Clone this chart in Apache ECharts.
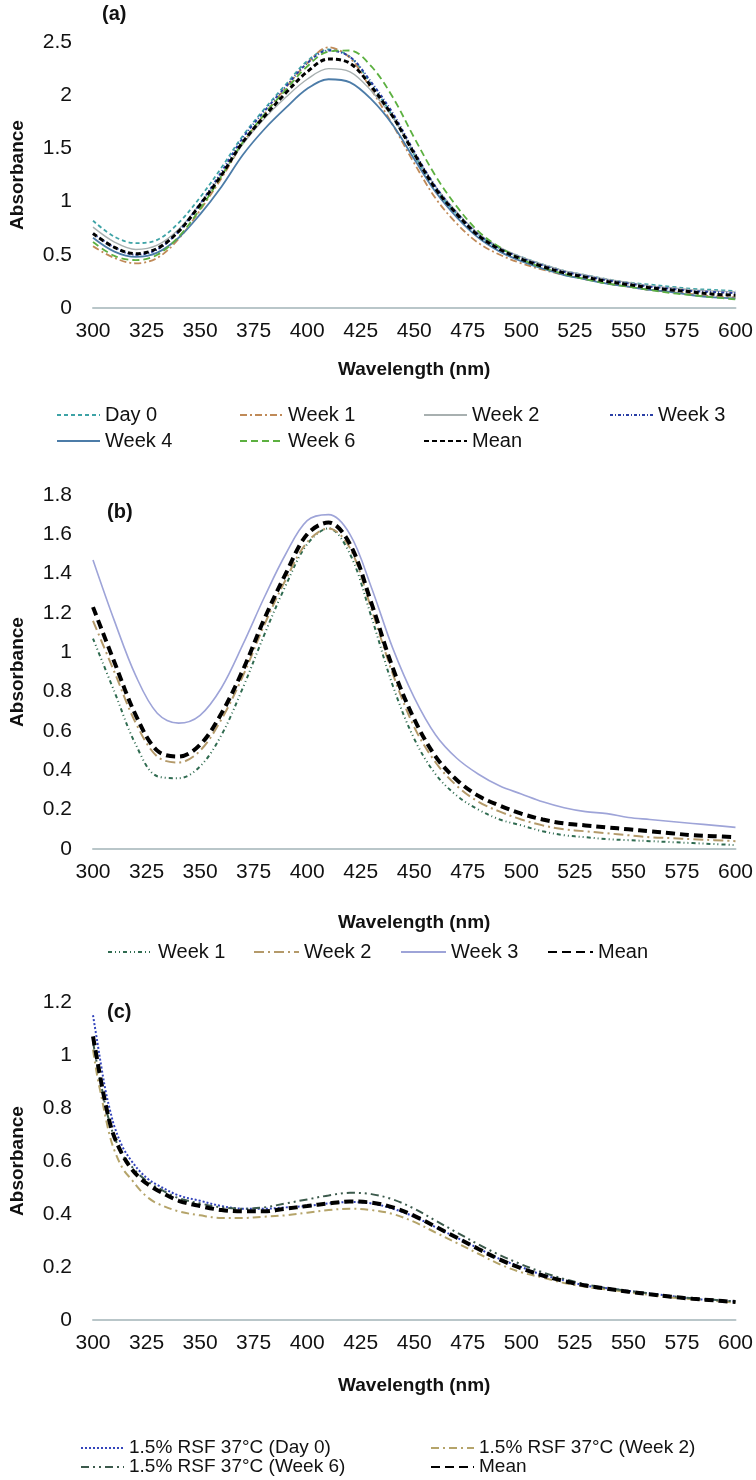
<!DOCTYPE html>
<html>
<head>
<meta charset="utf-8">
<script src="https://cdn.jsdelivr.net/npm/echarts@6/dist/echarts.min.js"></script>
<style>
  html, body { margin: 0; padding: 0; background: #fff; }
  #chart { width: 756px; height: 1480px; }
</style>
</head>
<body>
<div id="chart"></div>
<script>
// ---------- DATA ----------
const wl10 = [300,310,320,330,340,350,360,370,380,390,400,410,420,430,440,450,460,470,480,490,500,510,520,530,540,550,560,570,580,590,600];
const wlC = [300,302,304,306,308,310,314,318,322,326,330,340,350,360,370,380,390,400,410,420,430,440,450,460,470,480,490,500,510,520,530,540,550,560,570,580,590,600];
const xTicks = [300,325,350,375,400,425,450,475,500,525,550,575,600];

// Panel (a)
const aDay0  = [0.82,0.67,0.61,0.64,0.80,1.04,1.32,1.62,1.87,2.10,2.32,2.43,2.36,2.10,1.80,1.44,1.12,0.88,0.69,0.56,0.48,0.41,0.35,0.31,0.27,0.24,0.22,0.20,0.18,0.17,0.16];
const aWeek1 = [0.58,0.47,0.42,0.47,0.65,0.92,1.22,1.55,1.82,2.07,2.30,2.45,2.35,2.05,1.72,1.36,1.03,0.79,0.61,0.50,0.42,0.36,0.31,0.27,0.23,0.20,0.17,0.15,0.13,0.11,0.10];
const aWeek2 = [0.76,0.62,0.55,0.59,0.74,0.98,1.25,1.54,1.78,1.98,2.15,2.25,2.22,2.04,1.79,1.46,1.14,0.90,0.70,0.57,0.48,0.41,0.35,0.31,0.27,0.24,0.21,0.19,0.17,0.16,0.15];
const aWeek3 = [0.70,0.57,0.50,0.55,0.72,0.98,1.28,1.60,1.85,2.08,2.30,2.42,2.36,2.12,1.83,1.47,1.14,0.89,0.69,0.56,0.47,0.40,0.34,0.30,0.26,0.23,0.20,0.18,0.16,0.15,0.14];
const aWeek4 = [0.66,0.53,0.48,0.52,0.66,0.88,1.14,1.44,1.68,1.88,2.06,2.15,2.12,1.96,1.72,1.40,1.09,0.85,0.66,0.53,0.44,0.37,0.31,0.27,0.23,0.20,0.17,0.15,0.12,0.10,0.09];
const aWeek6 = [0.62,0.49,0.45,0.50,0.67,0.93,1.24,1.56,1.82,2.05,2.27,2.41,2.42,2.27,1.98,1.60,1.24,0.95,0.72,0.57,0.46,0.38,0.32,0.27,0.23,0.20,0.17,0.14,0.12,0.10,0.08];
const aMean  = [0.70,0.57,0.51,0.56,0.72,0.97,1.25,1.56,1.80,2.02,2.22,2.34,2.30,2.08,1.80,1.45,1.12,0.88,0.68,0.55,0.46,0.39,0.33,0.29,0.25,0.22,0.19,0.17,0.15,0.13,0.12];

// Panel (b)
const bWeek1 = [1.07,0.80,0.53,0.37,0.36,0.42,0.58,0.82,1.09,1.34,1.55,1.63,1.50,1.18,0.83,0.56,0.38,0.27,0.20,0.15,0.12,0.09,0.07,0.06,0.05,0.045,0.04,0.035,0.03,0.025,0.02];
const bWeek2 = [1.16,0.90,0.64,0.47,0.44,0.50,0.66,0.88,1.14,1.37,1.56,1.63,1.53,1.22,0.89,0.62,0.44,0.32,0.24,0.19,0.15,0.12,0.10,0.09,0.08,0.07,0.06,0.055,0.05,0.045,0.04];
const bWeek3 = [1.47,1.16,0.88,0.69,0.64,0.68,0.82,1.04,1.28,1.50,1.67,1.70,1.60,1.33,1.02,0.77,0.58,0.46,0.38,0.32,0.28,0.24,0.21,0.19,0.18,0.16,0.15,0.14,0.13,0.12,0.11];
const bMean  = [1.23,0.95,0.68,0.50,0.47,0.53,0.69,0.91,1.17,1.40,1.60,1.66,1.55,1.25,0.92,0.66,0.47,0.35,0.27,0.22,0.18,0.15,0.13,0.12,0.11,0.10,0.09,0.08,0.07,0.065,0.06];

// Panel (c)
const cDay0  = [1.15,1.05,0.95,0.86,0.79,0.73,0.65,0.60,0.56,0.53,0.51,0.47,0.45,0.43,0.42,0.42,0.425,0.43,0.44,0.445,0.44,0.42,0.39,0.35,0.31,0.27,0.23,0.20,0.17,0.15,0.13,0.12,0.11,0.10,0.09,0.08,0.075,0.07];
const cWeek2 = [1.02,0.92,0.84,0.76,0.69,0.64,0.57,0.53,0.49,0.46,0.44,0.41,0.395,0.385,0.385,0.39,0.395,0.405,0.415,0.42,0.415,0.40,0.37,0.33,0.29,0.25,0.21,0.18,0.16,0.14,0.125,0.115,0.105,0.095,0.085,0.078,0.072,0.066];
const cWeek6 = [1.05,0.96,0.88,0.80,0.74,0.69,0.62,0.58,0.545,0.52,0.50,0.46,0.44,0.425,0.42,0.425,0.44,0.455,0.47,0.48,0.475,0.455,0.42,0.375,0.33,0.285,0.245,0.21,0.18,0.155,0.135,0.12,0.11,0.10,0.09,0.082,0.076,0.07];
const cMean  = [1.07,0.98,0.89,0.81,0.74,0.69,0.62,0.57,0.535,0.51,0.49,0.45,0.43,0.415,0.41,0.41,0.42,0.43,0.44,0.447,0.443,0.425,0.393,0.352,0.31,0.268,0.228,0.195,0.168,0.147,0.13,0.118,0.107,0.097,0.088,0.08,0.074,0.068];

// ---------- CHART ----------
const FONT = '"Liberation Sans", Arial, sans-serif';
const TXT = '#111';

function line(name, wl, vals, idx, color, type, width, z) {
  return {
    type: 'line', name: name, xAxisIndex: idx, yAxisIndex: idx,
    data: wl.map((w, i) => [w, vals[i]]),
    symbol: 'none', smooth: 0.35, silent: true, z: z || 2,
    lineStyle: { color: color, type: type, width: width, cap: 'butt' },
    itemStyle: { color: color }
  };
}

function xAx(idx, gap) {
  return {
    type: 'value', gridIndex: idx, min: 300, max: 600, interval: 25,
    axisLine: { show: true, onZero: false, lineStyle: { color: '#b9c6c9', width: 2 } },
    axisTick: { show: false }, splitLine: { show: false },
    axisLabel: { fontSize: 21, color: TXT, fontFamily: FONT, margin: 13 },
    name: 'Wavelength (nm)', nameLocation: 'middle', nameGap: gap,
    nameTextStyle: { fontSize: 19, fontWeight: 'bold', color: TXT, fontFamily: FONT }
  };
}
function yAx(idx, max, interval) {
  return {
    type: 'value', gridIndex: idx, min: 0, max: max, interval: interval,
    axisLine: { show: false }, axisTick: { show: false }, splitLine: { show: false },
    axisLabel: { fontSize: 21, color: TXT, fontFamily: FONT, margin: 21 },
    name: 'Absorbance', nameLocation: 'middle', nameRotate: 90, nameGap: 66,
    nameTextStyle: { fontSize: 19, fontWeight: 'bold', color: TXT, fontFamily: FONT }
  };
}
function leg(name, left, cy, w, fs) {
  return {
    data: [name], left: left, top: cy - 10, itemWidth: w, itemHeight: 14,
    selectedMode: false, padding: 0, itemGap: 0,
    itemStyle: { opacity: 0, color: 'transparent', borderColor: 'transparent', borderWidth: 0 },
    lineStyle: { inherit: true },
    formatter: n => n.slice(2),
    textStyle: { fontSize: fs || 20, color: TXT, fontFamily: FONT, lineHeight: 20 }
  };
}

const option = {
  animation: false,
  backgroundColor: '#fff',
  grid: [
    { left: 78, width: 658, top: 42, height: 266 },
    { left: 78, width: 658, top: 495, height: 354 },
    { left: 78, width: 658, top: 1002, height: 318 }
  ],
  xAxis: [xAx(0, 52), xAx(1, 64), xAx(2, 56)],
  yAxis: [yAx(0, 2.5, 0.5), yAx(1, 1.8, 0.2), yAx(2, 1.2, 0.2)],
  legend: [
    leg('a_Day 0', 56, 415, 43), leg('a_Week 1', 239, 415, 43), leg('a_Week 2', 423, 415, 43), leg('a_Week 3', 609, 415, 43),
    leg('a_Week 4', 56, 441, 43), leg('a_Week 6', 239, 441, 43), leg('a_Mean', 423, 441, 43),
    leg('b_Week 1', 107, 952, 45), leg('b_Week 2', 253, 952, 45), leg('b_Week 3', 400, 952, 45), leg('b_Mean', 547, 952, 45),
    leg('c_1.5% RSF 37°C (Day 0)', 80, 1448, 43, 19), leg('c_1.5% RSF 37°C (Week 2)', 430, 1448, 43, 19),
    leg('c_1.5% RSF 37°C (Week 6)', 80, 1467, 43, 19), leg('c_Mean', 430, 1467, 43, 19)
  ],
  graphic: [
    { type: 'text', left: 102, top: 4, style: { text: '(a)', font: 'bold 20px ' + FONT, fill: TXT } },
    { type: 'text', left: 107, top: 502, style: { text: '(b)', font: 'bold 20px ' + FONT, fill: TXT } },
    { type: 'text', left: 107, top: 1002, style: { text: '(c)', font: 'bold 20px ' + FONT, fill: TXT } }
  ],
  series: [
    line('a_Day 0', wl10, aDay0, 0, '#3ea3a6', [4, 3], 1.8),
    line('a_Week 1', wl10, aWeek1, 0, '#c08a58', [7, 3, 2, 3], 1.8),
    line('a_Week 2', wl10, aWeek2, 0, '#a8b0b0', 'solid', 1.4),
    line('a_Week 3', wl10, aWeek3, 0, '#2a3fa6', [3, 2, 1, 2], 2),
    line('a_Week 4', wl10, aWeek4, 0, '#4c7ca8', 'solid', 1.8),
    line('a_Week 6', wl10, aWeek6, 0, '#5cb040', [7, 4], 1.8),
    line('a_Mean', wl10, aMean, 0, '#000000', [5, 3], 3, 5),

    line('b_Week 1', wl10, bWeek1, 1, '#2f6b50', [4, 3, 1, 3, 1, 3], 2),
    line('b_Week 2', wl10, bWeek2, 1, '#b49a6a', [10, 4, 2, 4], 2),
    line('b_Week 3', wl10, bWeek3, 1, '#9ea4d8', 'solid', 1.6),
    line('b_Mean', wl10, bMean, 1, '#000000', [9, 5], 4, 5),

    line('c_1.5% RSF 37°C (Day 0)', wlC, cDay0, 2, '#3344bb', [2, 2], 2),
    line('c_1.5% RSF 37°C (Week 2)', wlC, cWeek2, 2, '#b5a46a', [8, 4, 2, 4], 2),
    line('c_1.5% RSF 37°C (Week 6)', wlC, cWeek6, 2, '#3c5a4c', [8, 4, 2, 4, 2, 4], 2),
    line('c_Mean', wlC, cMean, 2, '#000000', [9, 5], 4, 5)
  ]
};

const chart = echarts.init(document.getElementById('chart'), null, { renderer: 'canvas', width: 756, height: 1480 });
chart.setOption(option);
</script>
</body>
</html>
